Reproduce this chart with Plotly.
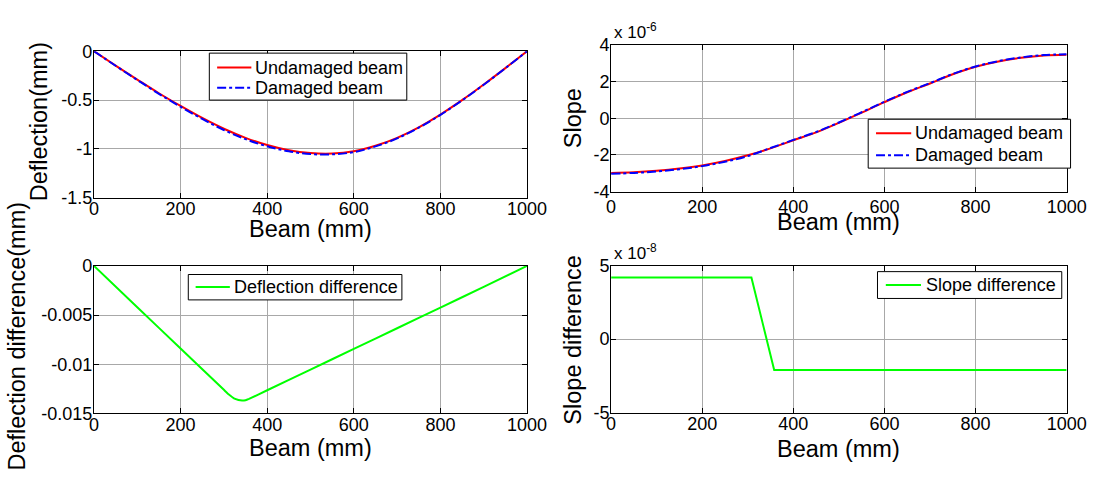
import plotly.graph_objects as go

# ---- data -------------------------------------------------------------
beam_x = [0, 50, 100, 150, 200, 250, 300, 350, 400, 450, 500,
          550, 600, 650, 700, 750, 800, 850, 900, 950, 1000]

deflection_undamaged = [0.0, -0.147, -0.290, -0.430, -0.560, -0.683, -0.793, -0.886,
                        -0.960, -1.013, -1.042, -1.047, -1.024, -0.968, -0.886,
                        -0.778, -0.648, -0.501, -0.341, -0.173, 0.0]
deflection_damaged = [0.0, -0.149, -0.294, -0.436, -0.568, -0.693, -0.806, -0.900,
                      -0.973, -1.024, -1.052, -1.055, -1.032, -0.974, -0.892,
                      -0.782, -0.652, -0.503, -0.343, -0.174, 0.0]

slope_undamaged = [-2.98e-6, -2.94e-6, -2.86e-6, -2.74e-6, -2.57e-6, -2.33e-6,
                   -2.02e-6, -1.64e-6, -1.20e-6, -0.77e-6, -0.25e-6, 0.31e-6,
                   0.88e-6, 1.42e-6, 1.90e-6, 2.40e-6, 2.81e-6, 3.10e-6,
                   3.30e-6, 3.43e-6, 3.47e-6]
slope_damaged = [-3.03e-6, -2.98e-6, -2.90e-6, -2.78e-6, -2.61e-6, -2.37e-6,
                 -2.06e-6, -1.62e-6, -1.18e-6, -0.75e-6, -0.23e-6, 0.33e-6,
                 0.90e-6, 1.44e-6, 1.92e-6, 2.42e-6, 2.83e-6, 3.12e-6,
                 3.32e-6, 3.45e-6, 3.49e-6]

diff_x = [0, 100, 200, 300, 310, 326, 342, 350, 358, 400, 500, 600, 700, 800, 900, 1000]
deflection_difference = [0.0, -0.0042, -0.0084, -0.0126, -0.01302, -0.01352, -0.01369,
                         -0.01365, -0.01352, -0.01264, -0.01054, -0.00844, -0.00634,
                         -0.00424, -0.00214, 0.0]

slope_diff_x = [0, 308, 358, 1000]
slope_difference = [4.2e-8, 4.2e-8, -2.1e-8, -2.1e-8]

x_ticks = [0, 200, 400, 600, 800, 1000]
defl_ticks = [0, -0.5, -1, -1.5]
defl_tick_text = ["0", "-0.5", "-1", "-1.5"]
slope_ticks = [-4e-6, -2e-6, 0, 2e-6, 4e-6]
slope_tick_text = ["-4", "-2", "0", "2", "4"]
ddiff_ticks = [0, -0.005, -0.01, -0.015]
ddiff_tick_text = ["0", "-0.005", "-0.01", "-0.015"]
sdiff_ticks = [-5e-8, 0, 5e-8]
sdiff_tick_text = ["-5", "0", "5"]

# ---- styling ----------------------------------------------------------
W, H = 1115, 480
FONT = "Liberation Sans, Arial, sans-serif"
RED = "#ff0000"
BLUE = "#0000ff"
GREEN = "#00ff00"
GRID = "#a8a8a8"


def px_x(p):
    return p / W


def px_y(p):
    return 1 - p / H


fig = go.Figure()

# deflection
fig.add_trace(go.Scatter(x=beam_x, y=deflection_undamaged, mode="lines", name="Undamaged beam",
                         line=dict(color=RED, width=2, shape="spline"),
                         xaxis="x", yaxis="y"))
fig.add_trace(go.Scatter(x=beam_x, y=deflection_damaged, mode="lines", name="Damaged beam",
                         line=dict(color=BLUE, width=2, dash="dashdot", shape="spline"),
                         xaxis="x", yaxis="y"))
# slope
fig.add_trace(go.Scatter(x=beam_x, y=slope_undamaged, mode="lines", name="Undamaged beam",
                         line=dict(color=RED, width=2, shape="spline"),
                         xaxis="x2", yaxis="y2"))
fig.add_trace(go.Scatter(x=beam_x, y=slope_damaged, mode="lines", name="Damaged beam",
                         line=dict(color=BLUE, width=2, dash="dashdot", shape="spline"),
                         xaxis="x2", yaxis="y2"))
# deflection difference
fig.add_trace(go.Scatter(x=diff_x, y=deflection_difference, mode="lines",
                         name="Deflection difference",
                         line=dict(color=GREEN, width=2, shape="spline", smoothing=0.3),
                         xaxis="x3", yaxis="y3"))
# slope difference
fig.add_trace(go.Scatter(x=slope_diff_x, y=slope_difference, mode="lines",
                         name="Slope difference",
                         line=dict(color=GREEN, width=2),
                         xaxis="x4", yaxis="y4"))

tick_font = dict(family=FONT, size=18, color="black")


def xaxis(domain, anchor, standoff):
    return dict(domain=domain, anchor=anchor, range=[0, 1000], tickvals=x_ticks,
                ticktext=[str(v) for v in x_ticks], ticks="inside", ticklen=5,
                tickcolor="black", showline=True, linecolor="black", linewidth=1,
                mirror="ticks", showgrid=True, gridcolor=GRID, gridwidth=1,
                zeroline=False, tickfont=tick_font, fixedrange=True,
                ticklabelstandoff=standoff)


def yaxis(domain, anchor, rng, vals, text):
    return dict(domain=domain, anchor=anchor, range=rng, tickvals=vals, ticktext=text,
                ticks="inside", ticklen=5, tickcolor="black", showline=True,
                linecolor="black", linewidth=1, mirror="ticks", showgrid=True,
                gridcolor=GRID, gridwidth=1, zeroline=False, tickfont=tick_font,
                fixedrange=True, ticklabelstandoff=-3)


left_dom = [px_x(91), px_x(534)]
right_dom = [px_x(620), px_x(1086)]

# ---- legend boxes (frame, line samples, labels) -------------------------
shapes = []
annotations = []


def legend_box(x0, x1, y0, y1, entries):
    shapes.append(dict(type="rect", xref="paper", yref="paper",
                       x0=px_x(x0), x1=px_x(x1), y0=px_y(y1), y1=px_y(y0),
                       line=dict(color="black", width=1), fillcolor="white",
                       layer="above"))
    for (lx0, lx1, ly, color, dash, label, tx) in entries:
        shapes.append(dict(type="line", xref="paper", yref="paper",
                           x0=px_x(lx0), x1=px_x(lx1), y0=px_y(ly), y1=px_y(ly),
                           line=dict(color=color, width=2, dash=dash), layer="above"))
        annotations.append(dict(text=label, x=px_x(tx), y=px_y(ly), xref="paper",
                                yref="paper", xanchor="left", yanchor="middle",
                                showarrow=False,
                                font=dict(family=FONT, size=18, color="black")))


legend_box(209, 411, 45, 94, [
    (217, 252, 60, RED, "solid", "Undamaged beam", 254),
    (217, 252, 81, BLUE, "dashdot", "Damaged beam", 254),
])
legend_box(883, 1090, 114, 165, [
    (891, 927, 128.5, RED, "solid", "Undamaged beam", 929),
    (891, 927, 151.5, BLUE, "dashdot", "Damaged beam", 929),
])
legend_box(187.5, 406, 276, 302.5, [
    (195, 230, 289, GREEN, "solid", "Deflection difference", 232),
])
legend_box(892.5, 1081, 273, 301, [
    (901, 937, 287, GREEN, "solid", "Slope difference", 940),
])

title_font = dict(family=FONT, size=23.5, color="black")
annotations += [
    dict(text="Beam (mm)", x=px_x(312.5), y=px_y(229), showarrow=False,
         xref="paper", yref="paper", xanchor="center", yanchor="middle", font=title_font),
    dict(text="Beam (mm)", x=px_x(853), y=px_y(221), showarrow=False,
         xref="paper", yref="paper", xanchor="center", yanchor="middle", font=title_font),
    dict(text="Beam (mm)", x=px_x(312.5), y=px_y(457.5), showarrow=False,
         xref="paper", yref="paper", xanchor="center", yanchor="middle", font=title_font),
    dict(text="Beam (mm)", x=px_x(853), y=px_y(458), showarrow=False,
         xref="paper", yref="paper", xanchor="center", yanchor="middle", font=title_font),
    dict(text="Deflection(mm)", x=px_x(35), y=px_y(117), textangle=-90, showarrow=False,
         xref="paper", yref="paper", xanchor="center", yanchor="middle", font=title_font),
    dict(text="Slope", x=px_x(581), y=px_y(113), textangle=-90, showarrow=False,
         xref="paper", yref="paper", xanchor="center", yanchor="middle", font=title_font),
    dict(text="Deflection difference(mm)", x=px_x(12), y=px_y(340), textangle=-90,
         showarrow=False, xref="paper", yref="paper", xanchor="center", yanchor="middle",
         font=title_font),
    dict(text="Slope difference", x=px_x(581), y=px_y(344), textangle=-90, showarrow=False,
         xref="paper", yref="paper", xanchor="center", yanchor="middle", font=title_font),
    dict(text="x 10<sup>-6</sup>", x=px_x(621), y=px_y(35), showarrow=False,
         xref="paper", yref="paper", xanchor="left", yanchor="bottom",
         font=dict(family=FONT, size=17, color="black")),
    dict(text="x 10<sup>-8</sup>", x=px_x(621), y=px_y(266), showarrow=False,
         xref="paper", yref="paper", xanchor="left", yanchor="bottom",
         font=dict(family=FONT, size=17, color="black")),
]

fig.update_layout(
    width=W, height=H, autosize=False,
    margin=dict(l=0, r=0, t=0, b=0),
    paper_bgcolor="white", plot_bgcolor="white",
    font=dict(family=FONT, color="black"),
    xaxis=xaxis(left_dom, "y", -5),
    yaxis=yaxis([px_y(196), px_y(43)], "x", [-1.5, 0], defl_ticks, defl_tick_text),
    xaxis2=xaxis(right_dom, "y2", -1),
    yaxis2=yaxis([px_y(189.5), px_y(36.5)], "x2", [-4e-6, 4e-6], slope_ticks, slope_tick_text),
    xaxis3=xaxis(left_dom, "y3", -5),
    yaxis3=yaxis([px_y(421), px_y(267)], "x3", [-0.015, 0], ddiff_ticks, ddiff_tick_text),
    xaxis4=xaxis(right_dom, "y4", -5),
    yaxis4=yaxis([px_y(420), px_y(267)], "x4", [-5e-8, 5e-8], sdiff_ticks, sdiff_tick_text),
    shapes=shapes,
    annotations=annotations,
    showlegend=False,
)

fig.write_html("out.html")
